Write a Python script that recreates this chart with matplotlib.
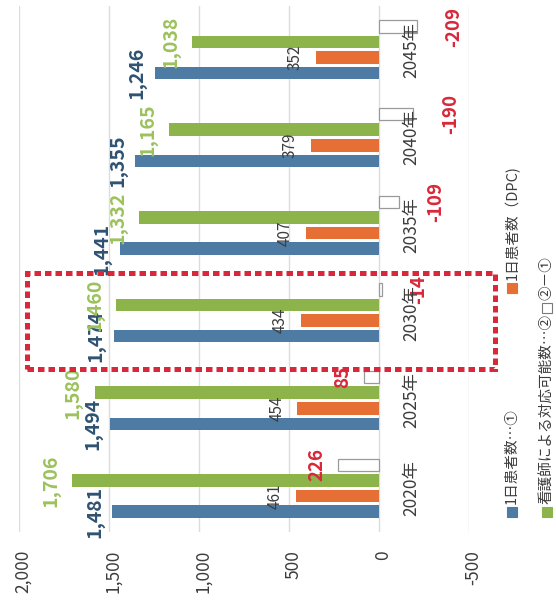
import matplotlib
matplotlib.use("Agg")
import matplotlib.pyplot as plt
from matplotlib.patches import Rectangle
import numpy as np

plt.rcParams['font.family'] = ['Noto Sans CJK JP', 'DejaVu Sans']

# ---- data ----
categories = ['2020年', '2025年', '2030年', '2035年', '2040年', '2045年']
patients = [1481, 1494, 1474, 1441, 1355, 1246]          # 1日患者数…①
patients_dpc = [461, 454, 434, 407, 379, 352]            # 1日患者数（DPC)
nurse_capacity = [1706, 1580, 1460, 1332, 1165, 1038]    # 看護師による対応可能数…②
gap = [226, 85, -14, -109, -190, -209]                   # ②－①
value_ticks = [-500, 0, 500, 1000, 1500, 2000]

legend_labels = ['1日患者数…①', '1日患者数（DPC)', '看護師による対応可能数…②', '②－①']

# ---- style ----
BLUE = '#4d7ba4'
ORANGE = '#e66f36'
GREEN = '#8cb44a'
RED = '#d8283a'
BLUE_TXT = '#2f5272'
GREEN_TXT = '#9cc25c'
GREY_TXT = '#3c3c3c'

W, H = 556, 613
DPI = 100


def fx(px):
    return px / W


def fy(py):
    return 1 - py / H


def pt(px):
    return px * 72 / DPI


fig = plt.figure(figsize=(W / DPI, H / DPI), dpi=DPI)
fig.patch.set_facecolor('white')

# the whole chart is laid out turned on its side: values grow to the left,
# years climb from bottom to top, and all text reads upward
ax = fig.add_axes([fx(19), fy(532), (469 - 19) / W, (532 - 6) / H])
ax.set_xlim(2000, -500)
ax.set_ylim(-0.5, 5.5)
for s in ax.spines.values():
    s.set_visible(False)
ax.set_xticks(value_ticks)
ax.set_xticklabels([])
ax.set_yticks([])
ax.tick_params(length=0)
ax.xaxis.grid(True, color='#dcdcdc', lw=1)
ax.set_axisbelow(True)

slot = 0.177
bh = 0.143
y = np.arange(len(categories))
y_pat = y - 1.5 * slot
y_dpc = y - 0.5 * slot
y_nur = y + 0.5 * slot
y_gap = y + 1.5 * slot

ax.barh(y_pat, patients, height=bh, color=BLUE, zorder=2)
ax.barh(y_dpc, patients_dpc, height=bh, color=ORANGE, zorder=2)
ax.barh(y_nur, nurse_capacity, height=bh, color=GREEN, zorder=2)
ax.barh(y_gap, gap, height=bh, color='white', edgecolor='#9a9a9a', lw=0.9, zorder=2)


def end_label(vals, ys, color, size, weight, off_px):
    for v, yy in zip(vals, ys):
        if v >= 0:
            ax.annotate(f'{v:,}', (v, yy), xytext=(-pt(off_px), 0), textcoords='offset points',
                        rotation=90, ha='right', va='center', color=color,
                        fontsize=size, fontweight=weight, zorder=4)
        else:
            ax.annotate(f'{v:,}', (v, yy), xytext=(pt(off_px + 16), 0), textcoords='offset points',
                        rotation=90, ha='left', va='center', color=color,
                        fontsize=size, fontweight=weight, zorder=4)


end_label(patients, y_pat, BLUE_TXT, 14, 'bold', 8)
end_label(nurse_capacity, y_nur, GREEN_TXT, 14, 'bold', 12)
end_label(patients_dpc, y_dpc, GREY_TXT, 11, 'normal', 12)
end_label(gap, y_gap, RED, 13.5, 'bold', 12)

# value axis labels
for v in value_ticks:
    ax.annotate(f'{v:,}', xy=(v, 0), xycoords=('data', 'axes fraction'),
                xytext=(pt(4), -pt(18)), textcoords='offset points',
                rotation=90, ha='center', va='top', fontsize=12.5, color=GREY_TXT,
                annotation_clip=False)

# category labels next to the zero line
for c, yy in zip(categories, y):
    ax.annotate(c, xy=(0, yy), xytext=(pt(23), 0), textcoords='offset points',
                rotation=90, ha='left', va='center', fontsize=12.5, color=GREY_TXT,
                zorder=6)

# legend, two rows running upward along the right edge
legend_items = [
    (512, 512, BLUE, BLUE, legend_labels[0]),
    (512, 288, ORANGE, ORANGE, legend_labels[1]),
    (547, 512, GREEN, GREEN, legend_labels[2]),
    (547, 308, 'white', '#7a7a7a', legend_labels[3]),
]
for cx, cy, fc, ec, txt in legend_items:
    sq = 10
    fig.add_artist(Rectangle((fx(cx - sq / 2), fy(cy + sq / 2)), sq / W, sq / H,
                             transform=fig.transFigure, facecolor=fc, edgecolor=ec, lw=0.8))
    fig.text(fx(cx), fy(cy - 8), txt, rotation=90, ha='center', va='bottom',
             fontsize=10.5, color=GREY_TXT)

# dotted highlight frame around 2030
fig.add_artist(Rectangle((fx(27), fy(369)), (495 - 27) / W, (369 - 273) / H,
                         transform=fig.transFigure, fill=False, edgecolor=RED,
                         lw=3.6, linestyle=(0, (1.3, 0.8)), zorder=10))

fig.savefig('out.png', dpi=DPI)
